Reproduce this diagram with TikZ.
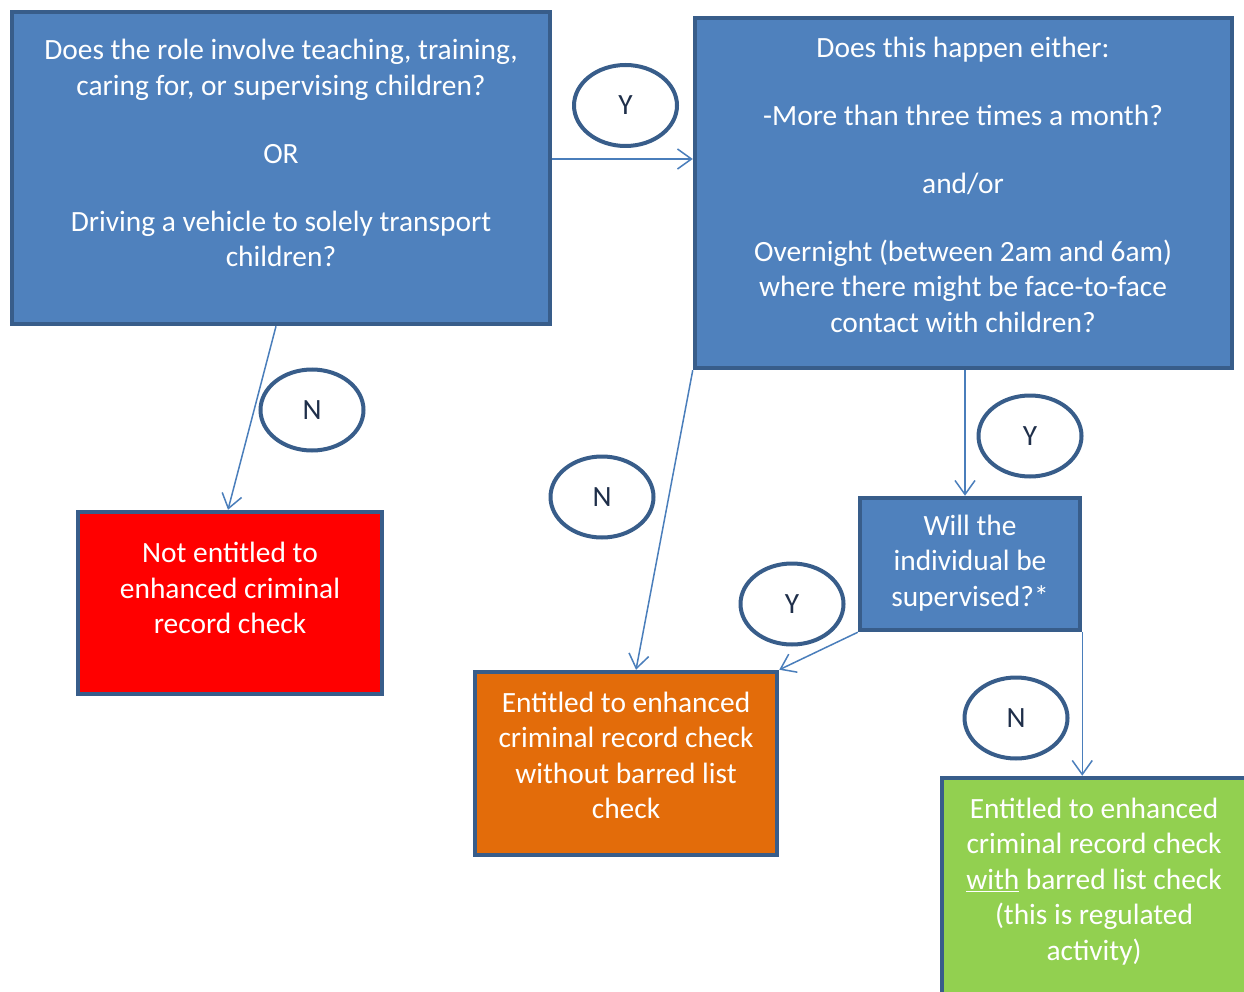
\documentclass[tikz,border=0pt]{standalone}
\usepackage{fontspec}
\setmainfont{Carlito}
\usetikzlibrary{shapes.geometric,arrows.meta,calc}
\definecolor{boxblue}{HTML}{4F81BD}
\definecolor{edgeblue}{HTML}{385D8A}
\definecolor{linkblue}{HTML}{4A7EBB}
\definecolor{orng}{HTML}{E36C0A}
\definecolor{grn}{HTML}{92D050}
\definecolor{navy}{HTML}{1F2F4A}
\begin{document}
\begin{tikzpicture}[x=1pt,y=-1pt,
  box/.style={draw=edgeblue,line width=4.5pt,inner sep=0pt,rectangle},
  txt/.style={align=center,inner sep=0pt,text=white,font=\fontsize{29.4}{35.5}\selectfont},
  bubble/.style={ellipse,draw=edgeblue,line width=4pt,fill=white,inner sep=0pt,
     minimum width=103pt,minimum height=81pt,text=navy,font=\fontsize{29.4}{35.5}\selectfont},
  conn/.style={draw=linkblue,line width=1.5pt,-{Straight Barb[length=14pt,width=20pt,line width=1.5pt]}}
]
\useasboundingbox (0,0) rectangle (1244,992);
\clip (0,0) rectangle (1244,992);
\fill[white] (0,0) rectangle (1244,992);

% boxes
\node[box,fill=boxblue,minimum width=538pt,minimum height=312pt] (q1) at (281,168) {};
\node[box,fill=boxblue,minimum width=537pt,minimum height=350pt] (q2) at (963.5,193) {};
\node[box,fill=red,minimum width=304pt,minimum height=182pt] (no) at (230,603) {};
\node[box,fill=boxblue,minimum width=220pt,minimum height=132pt] (q3) at (970,564) {};
\node[box,fill=orng,minimum width=302pt,minimum height=183pt] (part) at (626,763.5) {};
\node[box,fill=grn,minimum width=308pt,minimum height=220pt] (full) at (1096,888) {};

% texts
\node[txt] (q1t) at (281,153) {Does the role involve teaching, training,\\caring for, or supervising children?\\[32.5pt]OR\\[32.5pt]Driving a vehicle to solely transport\\children?};
\node[txt] (q2t) at (963,184.5) {Does this happen either:\\[32.5pt]-More than three times a month?\\[32.5pt]and/or\\[32.5pt]Overnight (between 2am and 6am)\\where there might be face-to-face\\contact with children?};
\node[txt] (not) at (230,588) {Not entitled to\\enhanced criminal\\record check};
\node[txt] (q3t) at (970,563) {Will the\\individual be\\supervised?*};
\node[txt] (partt) at (626,755.5) {Entitled to enhanced\\criminal record check\\without barred list\\check};
\node[txt] (fullt) at (1094,881.5) {Entitled to enhanced\\criminal record check\\\underline{with} barred list check\\(this is regulated\\activity)};

% bubbles
\node[bubble] (y1) at (625.5,105.5) {Y};
\node[bubble] (n1) at (312,410) {N};
\node[bubble] (n2) at (602,497) {N};
\node[bubble] (y2) at (1030,436) {Y};
\node[bubble] (y3) at (792,604) {Y};
\node[bubble] (n3) at (1016,718) {N};

% connectors
\draw[conn] ([yshift=9pt]q1.east) -- ([yshift=9pt]q1.east -| q2.west);
\draw[conn] ([xshift=-5pt]q1.south) -- ([xshift=-2pt]no.north);
\draw[conn] (q2.south west) -- ([xshift=10pt]part.north);
\draw[conn] ([xshift=1.5pt]q2.south) -- ([xshift=1.5pt]q2.south |- q3.north);
\draw[conn] (q3.south west) -- (part.north east);
\draw[conn] (q3.south east) -- (q3.south east |- full.north);
\end{tikzpicture}
\end{document}
